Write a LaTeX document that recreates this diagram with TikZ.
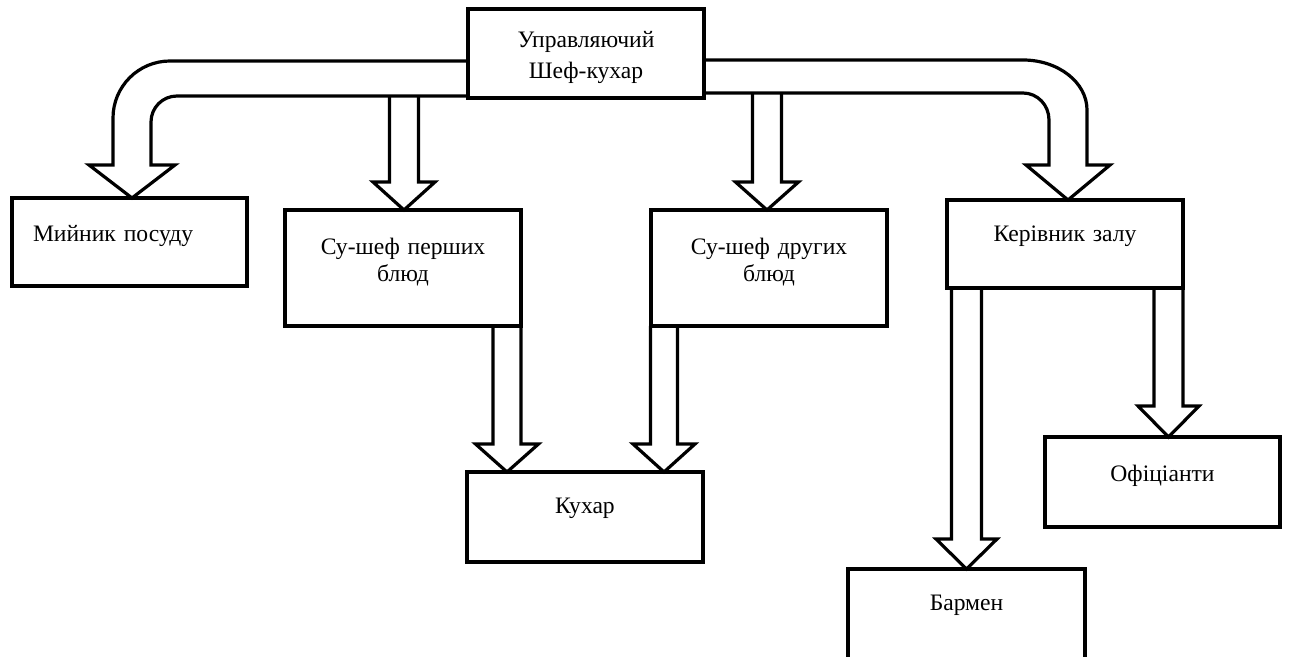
\documentclass[tikz,border=0pt]{standalone}
\usepackage{fontspec}
\setmainfont{Liberation Serif}
\newfontfamily\tnrfont{Liberation Serif}
\usetikzlibrary{calc,backgrounds}
\tikzset{
  box/.style={draw, line width=1.6pt, anchor=north west, outer sep=0pt, inner ysep=0pt, inner xsep=5pt,
    align=center, font=\tnrfont\fontsize{11.8}{13.5}\selectfont},
  blk/.style={draw, line width=1.6pt, fill=white, line join=miter},
}
% #1 start (shaft centre at top), #2 target node, #3 half shaft, #4 half head, #5 head length
\newcommand\blkdown[5]{%
  \draw[blk] ($(#1)+(-#3,0)$) -- ($(#1 |- #2.north)+(-#3,-#5)$) -- ($(#1 |- #2.north)+(-#4,-#5)$)
    -- (#1 |- #2.north) -- ($(#1 |- #2.north)+(#4,-#5)$) -- ($(#1 |- #2.north)+(#3,-#5)$)
    -- ($(#1)+(#3,0)$);}
\begin{document}
\begin{tikzpicture}[x=0.5pt,y=-0.5pt]
\useasboundingbox (0,0) rectangle (1289,657);
% boxes
\node[box, text width=108pt, text height=19.5pt, text depth=25pt,
  font=\tnrfont\fontsize{11.8}{15.5}\selectfont] (top) at (468,9) {Управляючий\\Шеф-кухар};
\node[box, inner xsep=10.5pt, text width=96.5pt, align=left, text height=22pt, text depth=22pt]
  (dish) at (12,198) {Мийник посуду};
\node[box, text width=108pt, text height=22.5pt, text depth=35.5pt] (sous1) at (285,210) {Су-шеф перших\\блюд};
\node[box, text width=108pt, text height=22.5pt, text depth=35.5pt] (sous2) at (651,210) {Су-шеф других\\блюд};
\node[box, text width=108pt, text height=20.5pt, text depth=24.5pt] (cook) at (467,472) {Кухар};
\node[box, text width=108pt, text height=21pt, text depth=23pt] (hall) at (947,200) {Керівник залу};
\node[box, text width=107.5pt, text height=22pt, text depth=23pt] (waiter) at (1045,437) {Офіціанти};
\node[box, text width=108.5pt, text height=20.5pt, text depth=29.5pt] (barman) at (848,569) {Бармен};
% arrows
\begin{pgfonlayer}{background}
\coordinate (a1) at ($(sous1.north |- top.south)+(1,-2)$);
\coordinate (a2) at ($(sous2.north |- top.south)+(-2,-5)$);
\blkdown{a1}{sous1}{14.5}{31}{28}
\blkdown{a2}{sous2}{14.5}{31.5}{28}
% left curved band
\draw[blk] ($(top.north west)+(0,52)$) -- (170,61) .. controls (138.5,61) and (113,86.5) .. (113,118)
  -- (113,165) -- (89,165) -- ($(dish.north)+(2.5,0)$) -- (175,165) -- (151,165) -- (151,122)
  .. controls (151,107.6) and (162.6,96) .. (177,96) -- ($(top.south west)+(0,-2)$);
% right curved band
\draw[blk] ($(top.north east)+(0,51)$) -- (1023,60) .. controls (1058.3,60) and (1087,82.4) .. (1087,110)
  -- (1087,165) -- (1110,165) -- ($(hall.north)+(3,0)$) -- (1026,165) -- (1049,165) -- (1049,120)
  .. controls (1049,105) and (1037.4,93) .. (1023,93) -- ($(top.south east)+(0,-5)$);
\coordinate (b1) at ($(sous1.south east)+(-14,0)$);
\coordinate (b2) at ($(sous2.south west)+(13,0)$);
\coordinate (c1) at ($(hall.south west)+(19.5,0)$);
\coordinate (c2) at ($(hall.south east)+(-14.5,0)$);
\blkdown{b1}{cook}{14}{31.5}{28}
\blkdown{b2}{cook}{13.5}{31}{28}
\blkdown{c1}{barman}{15}{30.5}{30}
\blkdown{c2}{waiter}{14.5}{30.5}{31}
\end{pgfonlayer}
\end{tikzpicture}
\end{document}
